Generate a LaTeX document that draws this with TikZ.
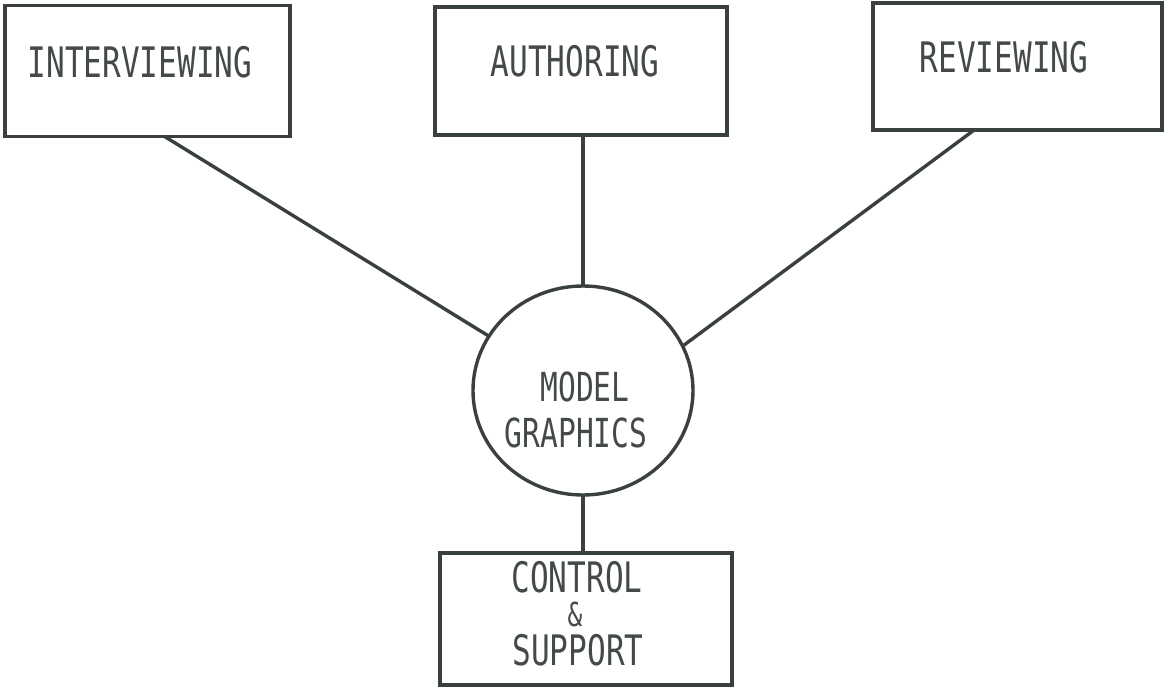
\documentclass[tikz,border=0pt]{standalone}
\usepackage{fontspec}
\newfontfamily\typefont[FakeStretch=0.74]{DejaVu Sans Mono}
\usetikzlibrary{shapes.geometric,calc}
\definecolor{ink}{HTML}{3A413C}
\definecolor{type}{HTML}{444B46}
\begin{document}
\begin{tikzpicture}[x=1pt,y=-1pt,
  box/.style={draw=ink,line width=3.4pt,rectangle,inner sep=0pt,outer sep=0pt},
  hub/.style={draw=ink,line width=3.4pt,ellipse,inner sep=0pt,outer sep=0pt},
  lbl/.style={text=type,font=\typefont\fontsize{42}{48}\selectfont,inner sep=0pt,anchor=center},
  small/.style={text=type,font=\typefont\fontsize{40}{46}\selectfont,inner sep=0pt,anchor=center},
  amp/.style={text=type,font=\typefont\fontsize{33}{36}\selectfont,inner sep=0pt,anchor=center},
  link/.style={draw=ink,line width=3.4pt}]
\useasboundingbox (0,0) rectangle (1165,688);

% the four activity boxes
\node[box,minimum width=285,minimum height=131] (intv) at (147.5,71) {};
\node[box,minimum width=292,minimum height=128] (auth) at (581,71) {};
\node[box,minimum width=289,minimum height=127] (revw) at (1017.5,66.5) {};
\node[box,minimum width=292,minimum height=132] (ctrl) at (586,619) {};

% central hub
\node[hub,minimum width=220,minimum height=209] (mg) at (583,390.5) {};

% labels
\node[lbl] (tintv) at (140,62) {INTERVIEWING};
\node[lbl] (tauth) at (575,61) {AUTHORING};
\node[lbl] (trevw) at (1004,57) {REVIEWING};
\node[small] (tmodel) at (585,387) {MODEL};
\node[small] (tgraph) at (576,433) {GRAPHICS};
\node[lbl] (tctrl) at (577,577) {CONTROL};
\node[amp] (tamp) at (575,614) {\&};
\node[lbl] (tsupp) at (578,650) {SUPPORT};

% connectors
\draw[link] ($(intv.south west)!0.56!(intv.south east)$) -- (mg.150);
\draw[link] (mg.north) -- (mg.north |- auth.south);
\draw[link] ($(revw.south west)!0.35!(revw.south east)$) -- (mg.24);
\draw[link] (mg.south) -- (mg.south |- ctrl.north);
\end{tikzpicture}
\end{document}
